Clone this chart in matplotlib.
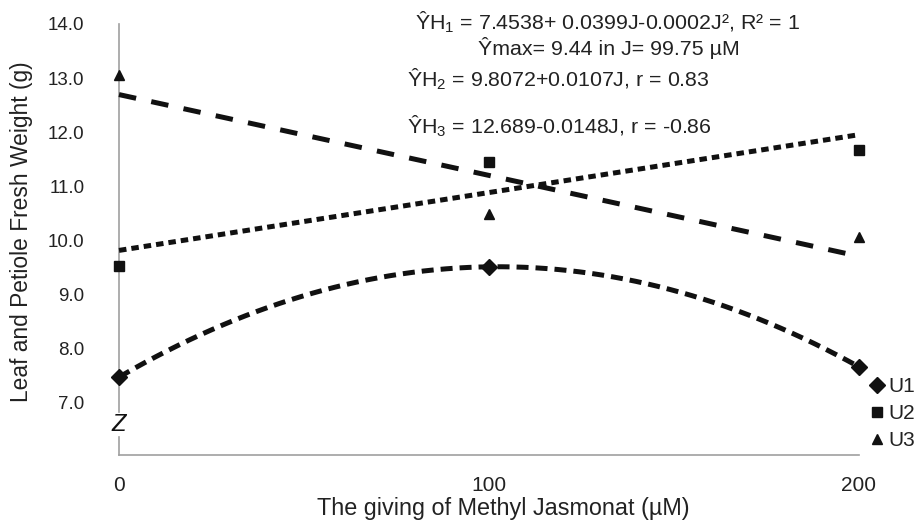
import numpy as np
import matplotlib
matplotlib.use("Agg")
import matplotlib.pyplot as plt

plt.rcParams['font.family'] = ['Liberation Sans', 'DejaVu Sans']
plt.rcParams['mathtext.fontset'] = 'custom'
plt.rcParams['mathtext.rm'] = 'Liberation Sans'
plt.rcParams['mathtext.it'] = 'Liberation Sans'

# Data
doses = [0, 100, 200]
u1 = [7.47, 9.51, 7.66]
u2 = [9.53, 11.45, 11.67]
u3 = [13.05, 10.49, 10.06]
labels = ["U1", "U2", "U3"]
yticks = [7.0, 8.0, 9.0, 10.0, 11.0, 12.0, 13.0, 14.0]
xticks = [0, 100, 200]
equations = [
    r"ŶH$_1$ = 7.4538+ 0.0399J-0.0002J², R² = 1",
    "Ŷmax= 9.44 in J= 99.75 µM",
    r"ŶH$_2$ = 9.8072+0.0107J, r = 0.83",
    r"ŶH$_3$ = 12.689-0.0148J, r = -0.86",
]

W, H = 919, 520
fig = plt.figure(figsize=(W / 100, H / 100), dpi=100)
fig.patch.set_facecolor('white')
ax = fig.add_axes([119 / W, 1 - 455 / H, (859 - 119) / W, (455 - 24) / H])
ax.set_xlim(0, 200)
ax.set_ylim(6.03, 14.0)

x = np.array(doses, dtype=float)
xx = np.linspace(0, 200, 200)

# Trendlines
c1 = np.polyfit(x, u1, 2)
c2 = np.polyfit(x, u2, 1)
c3 = np.polyfit(x, u3, 1)
lw = 3.6
ink = '#111111'
ax.plot(xx, np.polyval(c1, xx), color=ink, lw=lw, dashes=(2.4, 1.4), clip_on=False)
ax.plot(xx, np.polyval(c2, xx), color=ink, lw=lw, dashes=(1.5, 1.0), clip_on=False)
ax.plot(xx, np.polyval(c3, xx), color=ink, lw=lw, dashes=(3.5, 3.1), clip_on=False)

# Points
h1, = ax.plot(x, u1, linestyle='none', marker='D', ms=8.5, color=ink, label=labels[0], clip_on=False, zorder=5)
h2, = ax.plot(x, u2, linestyle='none', marker='s', ms=6.5, color=ink, label=labels[1], clip_on=False, zorder=5)
h3, = ax.plot(x, u3, linestyle='none', marker='^', ms=7.5, color=ink, label=labels[2], clip_on=False, zorder=5)

# Spines
for s in ['top', 'right', 'left']:
    ax.spines[s].set_visible(False)
ax.spines['bottom'].set_color('#a0a0a0')
ax.spines['bottom'].set_linewidth(1.2)
# left spine with break
ax.plot([0, 0], [6.83, 14.0], color='#a0a0a0', lw=1.2, clip_on=False, zorder=1)
ax.plot([0, 0], [6.03, 6.36], color='#a0a0a0', lw=1.2, clip_on=False, zorder=1)
ax.text(0, 6.6, "Z", fontsize=17, fontstyle='italic', ha='center', va='center', color=ink)

ax.set_yticks(yticks)
ax.set_yticklabels([f"{v:.1f}" for v in yticks])
ax.set_xticks(xticks)
ax.tick_params(axis='both', length=0, colors='#222222')
ax.tick_params(axis='y', pad=25, labelsize=13.5)
ax.tick_params(axis='x', pad=15, labelsize=15)

fig.text(22 / W, 1 - 232 / H, "Leaf and Petiole Fresh Weight (g)", fontsize=16.4, rotation=90,
         ha='center', va='center', color='#222222')
fig.text(503 / W, 1 - 509 / H, "The giving of Methyl Jasmonat (µM)", fontsize=16.8,
         ha='center', va='center', color='#222222')

# Equations
eqfs = 15.4
fig.text(415 / W, 1 - 30 / H, equations[0], fontsize=eqfs, ha='left', va='baseline', color='#222222')
fig.text(478 / W, 1 - 55 / H, equations[1], fontsize=eqfs, ha='left', va='baseline', color='#222222')
fig.text(407 / W, 1 - 87 / H, equations[2], fontsize=eqfs, ha='left', va='baseline', color='#222222')
fig.text(407 / W, 1 - 134 / H, equations[3], fontsize=eqfs, ha='left', va='baseline', color='#222222')

leg = ax.legend(handles=[h1, h2, h3], loc='upper left', bbox_to_anchor=(871 / W, 1 - 377 / H),
                bbox_transform=fig.transFigure, frameon=False, fontsize=15,
                handlelength=0.6, handletextpad=0.25, labelspacing=0.38, borderpad=0, borderaxespad=0)
for t in leg.get_texts():
    t.set_color('#222222')

fig.savefig("out.png", dpi=100, facecolor='white')
